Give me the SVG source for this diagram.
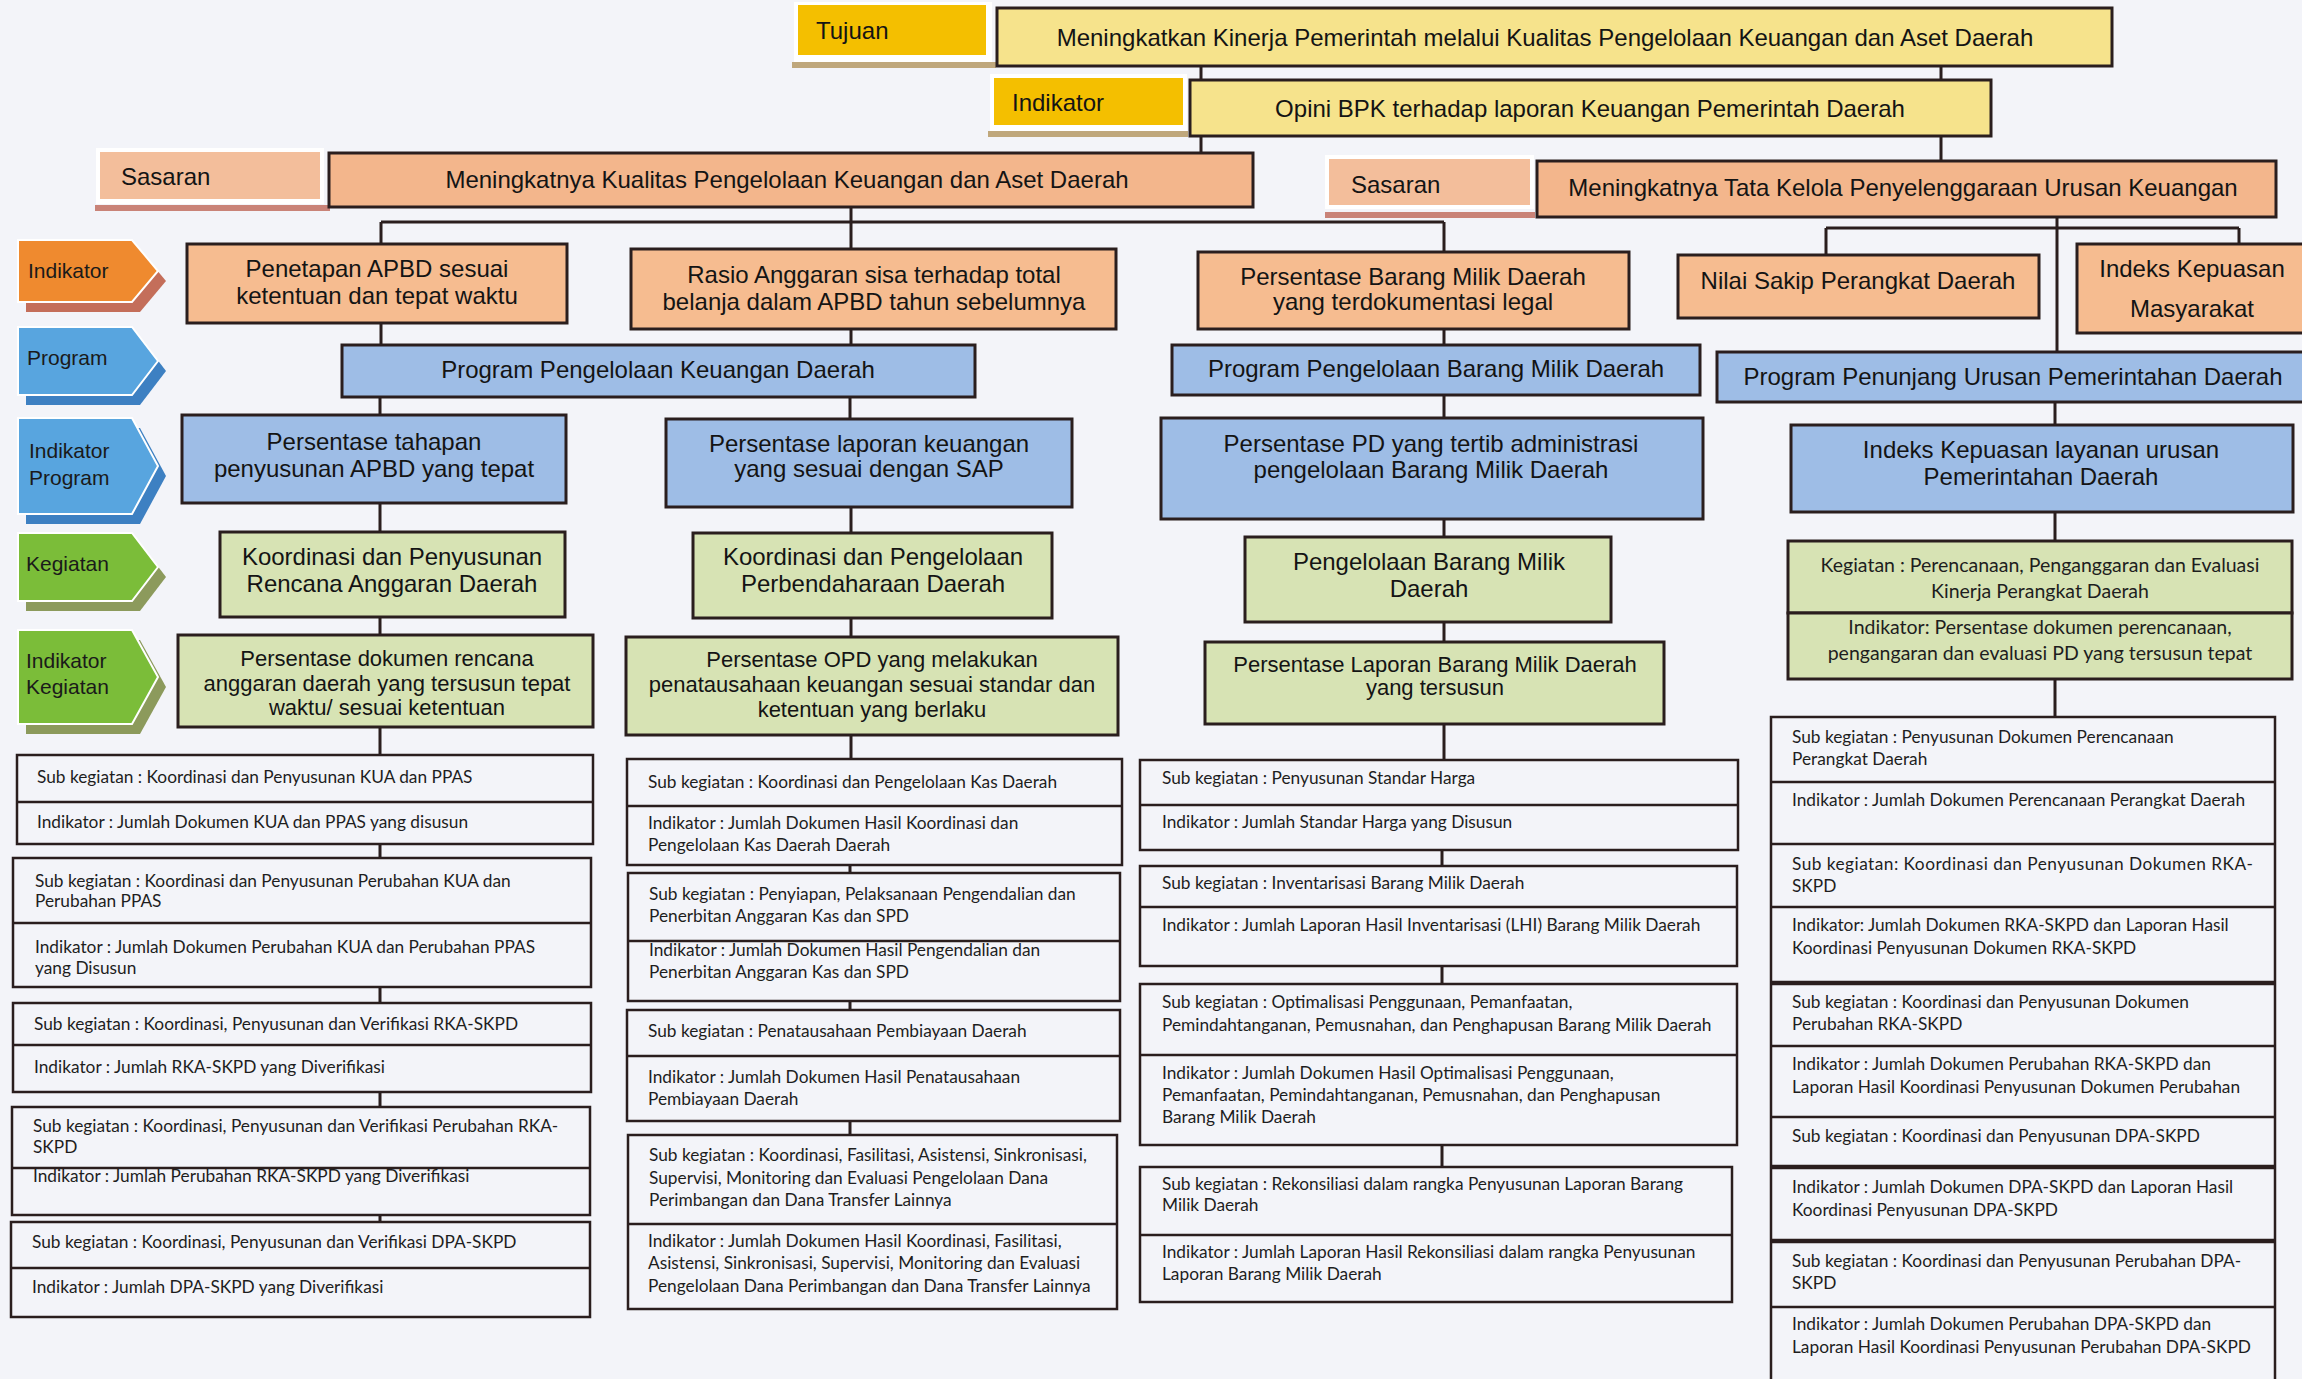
<svg xmlns="http://www.w3.org/2000/svg" width="2302" height="1379" viewBox="0 0 2302 1379">
<defs>
<style>
.bx{stroke:#2A1E1E;stroke-width:3}
.pl{fill:none;stroke:#2A1E1E;stroke-width:2.5}
.dv{stroke:#2A1E1E;stroke-width:2.5}
.dvt{stroke:#2A1E1E;stroke-width:4.5}
.gold{fill:#F4BF00}
.ylw{fill:#F6E38C}
.sl{fill:#F3BE9B}
.sb{fill:#F3B68C}
.pch{fill:#F6BC90}
.blu{fill:#9EBDE6}
.grn{fill:#D7E3B4}
.frm{fill:#FFFFFF}
.bandY{fill:#BFA77C}
.bandS{fill:#C98378}
.t{font-family:"Liberation Sans",Arial,sans-serif;font-size:24px;fill:#141414;text-anchor:middle}
.tl{font-family:"Liberation Sans",Arial,sans-serif;font-size:24px;fill:#141414}
.t22{font-family:"Liberation Sans",Arial,sans-serif;font-size:22px;fill:#141414;text-anchor:middle}
.ch{font-family:"Liberation Sans",Arial,sans-serif;font-size:21px;fill:#1a1a1a}
.s{font-family:Lato,"Open Sans",sans-serif;font-size:17.3px;fill:#1e1e1e}
.k{font-family:Lato,"Open Sans",sans-serif;font-size:19.5px;fill:#1e1e1e;text-anchor:middle}
.cn{stroke:#2A1E1E;stroke-width:3;fill:none}
.chO{fill:#EF8A2F}.chOs{fill:#C46E5A}
.chB{fill:#58A5DF}.chBs{fill:#3D80C2}
.chG{fill:#7BBD39}.chGs{fill:#8C9A5C}
</style>
</defs>
<rect width="2302" height="1379" fill="#F3F4F9"/>

<g id="connectors">
<path class="cn" d="M1201 66V80M1941 67V80M1201 136V153M1941 136V161"/>
<path class="cn" d="M851 207V222M381 222H1444M381 222V244M851 222V249M1444 222V252"/>
<path class="cn" d="M2057 217V352M1826 228H2239M1826 228V255M2239 228V244"/>
<path class="cn" d="M381 323V345M851 329V345M380 397V415M850 397V419M380 503V532M851 507V533M380 617V635M851 618V637M380 727V755M851 735V759"/>
<path class="cn" d="M1444 329V345M1444 395V418M1444 519V537M1444 622V642M1444 724V760"/>
<path class="cn" d="M2055 402V425M2055 512V541M2055 679V717"/>
<path class="cn" d="M380 844V858M380 987V1003M380 1092V1107M380 1215V1222"/>
<path class="cn" d="M850 865V873M850 1001V1010M850 1121V1135"/>
<path class="cn" d="M1442 850V866M1442 966V984M1442 1145V1167"/>
</g>

<g id="tujuan-label">
<rect class="frm" x="794" y="2" width="198" height="60"/>
<rect class="gold" x="798" y="5" width="188" height="50"/>
<rect class="bandY" x="792" y="62" width="204" height="6"/>
<text class="tl" x="816" y="39">Tujuan</text>
</g>
<g id="tujuan">
<rect class="bx ylw" x="997" y="8" width="1115" height="58"/>
<text class="t" x="1545" y="46">Meningkatkan Kinerja Pemerintah melalui Kualitas Pengelolaan Keuangan dan Aset Daerah</text>
</g>

<g id="indikator-label">
<rect class="frm" x="990" y="74" width="197" height="58"/>
<rect class="gold" x="994" y="78" width="189" height="47"/>
<rect class="bandY" x="988" y="131" width="200" height="6"/>
<text class="tl" x="1012" y="111">Indikator</text>
</g>
<g id="indikator">
<rect class="bx ylw" x="1190" y="80" width="801" height="56"/>
<text class="t" x="1590" y="117">Opini BPK terhadap laporan Keuangan Pemerintah Daerah</text>
</g>

<g id="sasaran1-label">
<rect class="frm" x="96" y="148" width="228" height="56"/>
<rect class="sl" x="100" y="152" width="220" height="47"/>
<rect class="bandS" x="95" y="205" width="235" height="6"/>
<text class="tl" x="121" y="185">Sasaran</text>
</g>
<g id="sasaran1">
<rect class="bx sb" x="329" y="153" width="924" height="54"/>
<text class="t" x="787" y="188">Meningkatnya Kualitas Pengelolaan Keuangan dan Aset Daerah</text>
</g>

<g id="sasaran2-label">
<rect class="frm" x="1325" y="155" width="209" height="54"/>
<rect class="sl" x="1329" y="159" width="201" height="46"/>
<rect class="bandS" x="1325" y="212" width="210" height="6"/>
<text class="tl" x="1351" y="193">Sasaran</text>
</g>
<g id="sasaran2">
<rect class="bx sb" x="1537" y="161" width="739" height="56"/>
<text class="t" x="1903" y="196">Meningkatnya Tata Kelola Penyelenggaraan Urusan Keuangan</text>
</g>

<g id="chevron-indikator">
<polygon class="chOs" points="26,250 140,250 166,281 140,312 26,312"/>
<polygon class="chO" points="18,240 132,240 158,271 132,302 18,302" stroke="#fff" stroke-width="2"/>
<text class="ch" x="28" y="278">Indikator</text>
</g>
<g id="chevron-program">
<polygon class="chBs" points="26,337 140,337 166,371 140,405 26,405"/>
<polygon class="chB" points="18,327 132,327 158,361 132,395 18,395" stroke="#fff" stroke-width="2"/>
<text class="ch" x="27" y="365">Program</text>
</g>
<g id="chevron-indikator-program">
<polygon class="chBs" points="26,428 140,428 166,476 140,524 26,524"/>
<polygon class="chB" points="18,418 132,418 158,466 132,514 18,514" stroke="#fff" stroke-width="2"/>
<text class="ch" x="29" y="458">Indikator</text>
<text class="ch" x="29" y="485">Program</text>
</g>
<g id="chevron-kegiatan">
<polygon class="chGs" points="26,543 140,543 166,577 140,611 26,611"/>
<polygon class="chG" points="18,533 132,533 158,567 132,601 18,601" stroke="#fff" stroke-width="2"/>
<text class="ch" x="26" y="571">Kegiatan</text>
</g>
<g id="chevron-indikator-kegiatan">
<polygon class="chGs" points="26,640 140,640 166,687 140,734 26,734"/>
<polygon class="chG" points="18,630 132,630 158,677 132,724 18,724" stroke="#fff" stroke-width="2"/>
<text class="ch" x="26" y="668">Indikator</text>
<text class="ch" x="26" y="694">Kegiatan</text>
</g>

<g id="ind-a">
<rect class="bx pch" x="187" y="244" width="380" height="79"/>
<text class="t" x="377" y="277">Penetapan APBD sesuai</text>
<text class="t" x="377" y="304">ketentuan dan tepat waktu</text>
</g>
<g id="ind-b">
<rect class="bx pch" x="631" y="249" width="485" height="80"/>
<text class="t" x="874" y="283">Rasio Anggaran sisa terhadap total</text>
<text class="t" x="874" y="310">belanja dalam APBD tahun sebelumnya</text>
</g>
<g id="ind-c">
<rect class="bx pch" x="1198" y="252" width="431" height="77"/>
<text class="t" x="1413" y="285">Persentase Barang Milik Daerah</text>
<text class="t" x="1413" y="310">yang terdokumentasi legal</text>
</g>
<g id="ind-d">
<rect class="bx pch" x="1678" y="255" width="361" height="63"/>
<text class="t" x="1858" y="289">Nilai Sakip Perangkat Daerah</text>
</g>
<g id="ind-e">
<rect class="bx pch" x="2077" y="244" width="240" height="89"/>
<text class="t" x="2192" y="277">Indeks Kepuasan</text>
<text class="t" x="2192" y="317">Masyarakat</text>
</g>

<g id="prog-keuangan">
<rect class="bx blu" x="342" y="345" width="633" height="52"/>
<text class="t" x="658" y="378">Program Pengelolaan Keuangan Daerah</text>
</g>
<g id="prog-bmd">
<rect class="bx blu" x="1172" y="345" width="528" height="50"/>
<text class="t" x="1436" y="377">Program Pengelolaan Barang Milik Daerah</text>
</g>
<g id="prog-penunjang">
<rect class="bx blu" x="1717" y="352" width="600" height="50"/>
<text class="t" x="2013" y="385">Program Penunjang Urusan Pemerintahan Daerah</text>
</g>

<g id="ip1">
<rect class="bx blu" x="182" y="415" width="384" height="88"/>
<text class="t" x="374" y="450">Persentase tahapan</text>
<text class="t" x="374" y="477">penyusunan APBD yang tepat</text>
</g>
<g id="ip2">
<rect class="bx blu" x="666" y="419" width="406" height="88"/>
<text class="t" x="869" y="452">Persentase laporan keuangan</text>
<text class="t" x="869" y="477">yang sesuai dengan SAP</text>
</g>
<g id="ip3">
<rect class="bx blu" x="1161" y="418" width="542" height="101"/>
<text class="t" x="1431" y="452">Persentase PD yang tertib administrasi</text>
<text class="t" x="1431" y="478">pengelolaan Barang Milik Daerah</text>
</g>
<g id="ip4">
<rect class="bx blu" x="1791" y="425" width="502" height="87"/>
<text class="t" x="2041" y="458">Indeks Kepuasan layanan  urusan</text>
<text class="t" x="2041" y="485">Pemerintahan Daerah</text>
</g>

<g id="keg1">
<rect class="bx grn" x="220" y="532" width="345" height="85"/>
<text class="t" x="392" y="565">Koordinasi dan Penyusunan</text>
<text class="t" x="392" y="592">Rencana Anggaran Daerah</text>
</g>
<g id="keg2">
<rect class="bx grn" x="693" y="533" width="359" height="85"/>
<text class="t" x="873" y="565">Koordinasi dan Pengelolaan</text>
<text class="t" x="873" y="592">Perbendaharaan Daerah</text>
</g>
<g id="keg3">
<rect class="bx grn" x="1245" y="537" width="366" height="85"/>
<text class="t" x="1429" y="570">Pengelolaan Barang Milik</text>
<text class="t" x="1429" y="597">Daerah</text>
</g>
<g id="keg4">
<rect class="bx grn" x="1788" y="541" width="504" height="72"/>
<rect class="bx grn" x="1788" y="613" width="504" height="66"/>
<text class="k" x="2040" y="572">Kegiatan : Perencanaan, Penganggaran dan Evaluasi</text>
<text class="k" x="2040" y="598">Kinerja Perangkat Daerah</text>
<text class="k" x="2040" y="634">Indikator: Persentase dokumen perencanaan,</text>
<text class="k" x="2040" y="660">pengangaran dan evaluasi PD yang tersusun tepat</text>
</g>

<g id="ik1">
<rect class="bx grn" x="178" y="635" width="415" height="92"/>
<text class="t22" x="387" y="666">Persentase dokumen rencana</text>
<text class="t22" x="387" y="691">anggaran daerah yang tersusun tepat</text>
<text class="t22" x="387" y="715">waktu/ sesuai ketentuan</text>
</g>
<g id="ik2">
<rect class="bx grn" x="626" y="637" width="492" height="98"/>
<text class="t22" x="872" y="667">Persentase OPD yang melakukan</text>
<text class="t22" x="872" y="692">penatausahaan keuangan sesuai standar dan</text>
<text class="t22" x="872" y="717">ketentuan yang berlaku</text>
</g>
<g id="ik3">
<rect class="bx grn" x="1205" y="642" width="459" height="82"/>
<text class="t22" x="1435" y="672">Persentase Laporan Barang Milik Daerah</text>
<text class="t22" x="1435" y="695">yang tersusun</text>
</g>

<g id="sk1-1">
<rect class="pl" x="17" y="755" width="576" height="89"/>
<line class="dv" x1="17" y1="802" x2="593" y2="802"/>
<text class="s" x="37" y="783">Sub kegiatan :  Koordinasi dan Penyusunan KUA dan PPAS</text>
<text class="s" x="37" y="828">Indikator : Jumlah Dokumen KUA dan PPAS yang disusun</text>
</g>
<g id="sk1-2">
<rect class="pl" x="13" y="858" width="578" height="129"/>
<line class="dv" x1="13" y1="923" x2="591" y2="923"/>
<text class="s" x="35" y="887">Sub kegiatan :  Koordinasi dan Penyusunan Perubahan KUA dan</text>
<text class="s" x="35" y="907">Perubahan PPAS</text>
<text class="s" x="35" y="953">Indikator : Jumlah Dokumen Perubahan KUA dan Perubahan PPAS</text>
<text class="s" x="35" y="974">yang Disusun</text>
</g>
<g id="sk1-3">
<rect class="pl" x="13" y="1003" width="578" height="89"/>
<line class="dv" x1="13" y1="1045" x2="591" y2="1045"/>
<text class="s" x="34" y="1030">Sub kegiatan :  Koordinasi, Penyusunan dan Verifikasi RKA-SKPD</text>
<text class="s" x="34" y="1073">Indikator : Jumlah RKA-SKPD yang Diverifikasi</text>
</g>
<g id="sk1-4">
<rect class="pl" x="12" y="1107" width="578" height="108"/>
<line class="dv" x1="12" y1="1168" x2="590" y2="1168"/>
<text class="s" x="33" y="1132">Sub kegiatan :  Koordinasi, Penyusunan dan Verifikasi Perubahan RKA-</text>
<text class="s" x="33" y="1153">SKPD</text>
<text class="s" x="33" y="1182">Indikator : Jumlah Perubahan RKA-SKPD yang Diverifikasi</text>
</g>
<g id="sk1-5">
<rect class="pl" x="11" y="1222" width="579" height="95"/>
<line class="dv" x1="11" y1="1268" x2="590" y2="1268"/>
<text class="s" x="32" y="1248">Sub kegiatan :  Koordinasi, Penyusunan dan Verifikasi DPA-SKPD</text>
<text class="s" x="32" y="1293">Indikator : Jumlah DPA-SKPD yang Diverifikasi</text>
</g>

<g id="sk2-1">
<rect class="pl" x="627" y="759" width="495" height="106"/>
<line class="dv" x1="627" y1="806" x2="1122" y2="806"/>
<text class="s" x="648" y="788">Sub kegiatan :  Koordinasi dan Pengelolaan Kas Daerah</text>
<text class="s" x="648" y="829">Indikator : Jumlah Dokumen Hasil Koordinasi dan</text>
<text class="s" x="648" y="851">Pengelolaan Kas Daerah Daerah</text>
</g>
<g id="sk2-2">
<rect class="pl" x="628" y="873" width="492" height="128"/>
<line class="dv" x1="628" y1="941" x2="1120" y2="941"/>
<text class="s" x="649" y="900">Sub kegiatan :  Penyiapan, Pelaksanaan Pengendalian dan</text>
<text class="s" x="649" y="922">Penerbitan Anggaran Kas dan SPD</text>
<text class="s" x="649" y="956">Indikator : Jumlah Dokumen Hasil Pengendalian dan</text>
<text class="s" x="649" y="978">Penerbitan Anggaran Kas dan SPD</text>
</g>
<g id="sk2-3">
<rect class="pl" x="627" y="1010" width="493" height="111"/>
<line class="dv" x1="627" y1="1056" x2="1120" y2="1056"/>
<text class="s" x="648" y="1037">Sub kegiatan :  Penatausahaan Pembiayaan Daerah</text>
<text class="s" x="648" y="1083">Indikator : Jumlah Dokumen Hasil Penatausahaan</text>
<text class="s" x="648" y="1105">Pembiayaan Daerah</text>
</g>
<g id="sk2-4">
<rect class="pl" x="628" y="1135" width="489" height="174"/>
<line class="dv" x1="628" y1="1224" x2="1117" y2="1224"/>
<text class="s" x="649" y="1161">Sub kegiatan :  Koordinasi, Fasilitasi, Asistensi, Sinkronisasi,</text>
<text class="s" x="649" y="1184">Supervisi, Monitoring dan Evaluasi Pengelolaan Dana</text>
<text class="s" x="649" y="1206">Perimbangan dan Dana Transfer Lainnya</text>
<text class="s" x="648" y="1247">Indikator : Jumlah Dokumen Hasil Koordinasi, Fasilitasi,</text>
<text class="s" x="648" y="1269">Asistensi, Sinkronisasi, Supervisi, Monitoring dan Evaluasi</text>
<text class="s" x="648" y="1292">Pengelolaan Dana Perimbangan dan Dana Transfer Lainnya</text>
</g>

<g id="sk3-1">
<rect class="pl" x="1140" y="760" width="598" height="90"/>
<line class="dv" x1="1140" y1="805" x2="1738" y2="805"/>
<text class="s" x="1162" y="784">Sub kegiatan :  Penyusunan Standar Harga</text>
<text class="s" x="1162" y="828">Indikator : Jumlah Standar Harga yang Disusun</text>
</g>
<g id="sk3-2">
<rect class="pl" x="1140" y="866" width="597" height="100"/>
<line class="dv" x1="1140" y1="907" x2="1737" y2="907"/>
<text class="s" x="1162" y="889">Sub kegiatan :  Inventarisasi Barang Milik Daerah</text>
<text class="s" x="1162" y="931">Indikator : Jumlah Laporan Hasil Inventarisasi (LHI) Barang Milik Daerah</text>
</g>
<g id="sk3-3">
<rect class="pl" x="1140" y="984" width="597" height="161"/>
<line class="dv" x1="1140" y1="1055" x2="1737" y2="1055"/>
<text class="s" x="1162" y="1008">Sub kegiatan :  Optimalisasi Penggunaan, Pemanfaatan,</text>
<text class="s" x="1162" y="1031">Pemindahtanganan, Pemusnahan, dan Penghapusan Barang Milik Daerah</text>
<text class="s" x="1162" y="1079">Indikator : Jumlah Dokumen Hasil Optimalisasi Penggunaan,</text>
<text class="s" x="1162" y="1101">Pemanfaatan, Pemindahtanganan, Pemusnahan, dan Penghapusan</text>
<text class="s" x="1162" y="1123">Barang Milik Daerah</text>
</g>
<g id="sk3-4">
<rect class="pl" x="1140" y="1167" width="592" height="135"/>
<line class="dv" x1="1140" y1="1235" x2="1732" y2="1235"/>
<text class="s" x="1162" y="1190">Sub kegiatan :  Rekonsiliasi dalam rangka Penyusunan Laporan Barang</text>
<text class="s" x="1162" y="1211">Milik Daerah</text>
<text class="s" x="1162" y="1258">Indikator : Jumlah Laporan Hasil Rekonsiliasi dalam rangka Penyusunan</text>
<text class="s" x="1162" y="1280">Laporan Barang Milik Daerah</text>
</g>

<g id="sk4">
<rect class="pl" x="1771" y="717" width="504" height="680"/>
<line class="dv" x1="1771" y1="782" x2="2275" y2="782"/>
<line class="dv" x1="1771" y1="844" x2="2275" y2="844"/>
<line class="dv" x1="1771" y1="907" x2="2275" y2="907"/>
<line class="dvt" x1="1771" y1="983" x2="2275" y2="983"/>
<line class="dv" x1="1771" y1="1046" x2="2275" y2="1046"/>
<line class="dv" x1="1771" y1="1117" x2="2275" y2="1117"/>
<line class="dvt" x1="1771" y1="1167" x2="2275" y2="1167"/>
<line class="dvt" x1="1771" y1="1241" x2="2275" y2="1241"/>
<line class="dv" x1="1771" y1="1307" x2="2275" y2="1307"/>
<text class="s" x="1792" y="743">Sub kegiatan : Penyusunan Dokumen Perencanaan</text>
<text class="s" x="1792" y="765">Perangkat Daerah</text>
<text class="s" x="1792" y="806">Indikator : Jumlah Dokumen Perencanaan Perangkat Daerah</text>
<text class="s" x="1792" y="870" textLength="461" lengthAdjust="spacing">Sub kegiatan: Koordinasi dan Penyusunan Dokumen RKA-</text>
<text class="s" x="1792" y="892">SKPD</text>
<text class="s" x="1792" y="931">Indikator: Jumlah Dokumen RKA-SKPD dan Laporan Hasil</text>
<text class="s" x="1792" y="954">Koordinasi Penyusunan Dokumen RKA-SKPD</text>
<text class="s" x="1792" y="1008">Sub kegiatan : Koordinasi dan Penyusunan Dokumen</text>
<text class="s" x="1792" y="1030">Perubahan RKA-SKPD</text>
<text class="s" x="1792" y="1070">Indikator : Jumlah Dokumen Perubahan RKA-SKPD dan</text>
<text class="s" x="1792" y="1093">Laporan Hasil Koordinasi Penyusunan Dokumen Perubahan</text>
<text class="s" x="1792" y="1142">Sub kegiatan : Koordinasi dan Penyusunan DPA-SKPD</text>
<text class="s" x="1792" y="1193">Indikator : Jumlah Dokumen DPA-SKPD dan Laporan Hasil</text>
<text class="s" x="1792" y="1216">Koordinasi Penyusunan DPA-SKPD</text>
<text class="s" x="1792" y="1267">Sub kegiatan : Koordinasi dan Penyusunan Perubahan DPA-</text>
<text class="s" x="1792" y="1289">SKPD</text>
<text class="s" x="1792" y="1330">Indikator : Jumlah Dokumen Perubahan DPA-SKPD dan</text>
<text class="s" x="1792" y="1353">Laporan Hasil Koordinasi Penyusunan Perubahan DPA-SKPD</text>
</g>
</svg>
